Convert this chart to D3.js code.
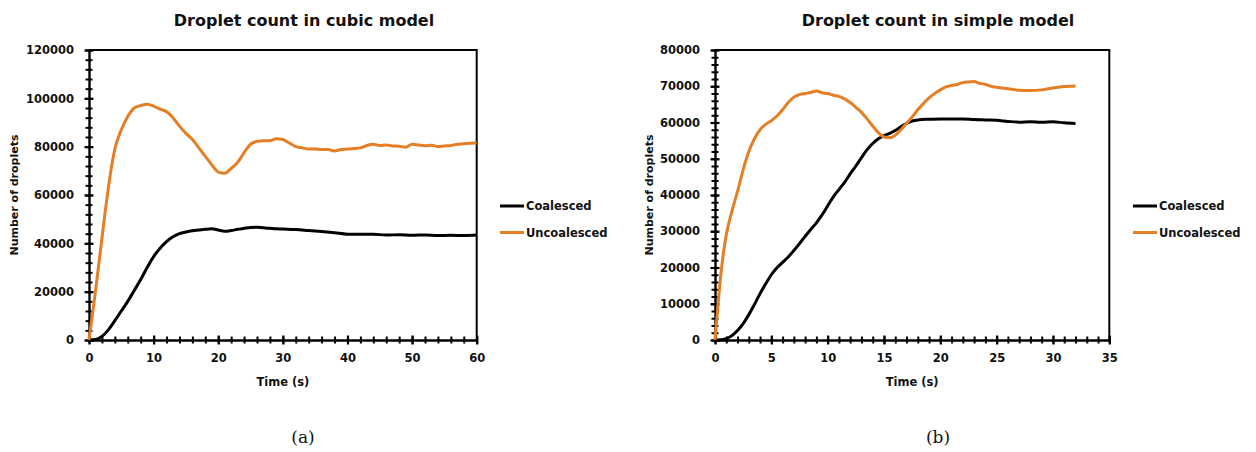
<!DOCTYPE html>
<html><head><meta charset="utf-8">
<script src="https://cdn.jsdelivr.net/npm/d3@7"></script>
<style>
body{margin:0;background:#fff;}
text{font-family:"DejaVu Sans",sans-serif;font-weight:bold;fill:#111;}
.cap{font-family:"DejaVu Serif","Liberation Serif",serif;font-weight:normal;}
</style></head><body>
<svg id="c" width="1256" height="452"></svg>
<script>
// ---- Data: cubic model (a) ----
const cubicUncoalT = [0,0.5,1,1.5,2,2.5,3,3.5,4,5,6,7,8,9,10,11,12,13,14,15,16,17,18,19,20,21,22,23,24,25,26,27,28,29,30,31,32,33,34,35,36,37,38,39,40,41,42,43,44,45,46,47,48,49,50,51,52,53,54,55,56,57,58,59,60];
const cubicUncoalV = [0,10000,20000,31000,42000,53000,63000,72000,79000,87000,92500,96000,97000,97600,96800,95500,94500,92000,88500,85500,83000,79500,76000,72500,69500,69000,71000,73500,77500,81000,82200,82500,82500,83300,83000,81500,80000,79500,79000,79000,78800,78800,78200,78800,79000,79200,79500,80500,81000,80500,80700,80300,80200,79800,81000,80700,80400,80600,80000,80300,80500,81000,81200,81400,81500];
const cubicCoalT = [0,1,2,3,4,5,6,7,8,9,10,11,12,13,14,15,16,17,18,19,20,21,22,23,24,25,26,27,28,29,30,32,34,36,38,40,42,44,46,48,50,52,54,56,58,60];
const cubicCoalV = [0,200,1500,4200,8000,12000,16000,20500,25000,30000,34500,38000,40700,42700,44000,44700,45200,45500,45800,46000,45500,45000,45300,45800,46200,46600,46700,46400,46200,46000,45900,45700,45300,44900,44400,43800,43800,43800,43400,43600,43300,43500,43200,43300,43200,43400];
// ---- Data: simple model (b) ----
const simpleUncoalT = [0,0.25,0.5,0.75,1,1.5,2,2.5,3,3.5,4,4.5,5,5.5,6,6.5,7,7.5,8,8.5,9,9.5,10,10.5,11,11.5,12,12.5,13,13.5,14,14.5,15,15.5,16,16.5,17,17.5,18,18.5,19,19.5,20,20.5,21,21.5,22,22.5,23,23.5,24,24.5,25,26,27,28,29,30,31,32];
const simpleUncoalV = [0,9000,17500,24000,29000,35500,41000,47000,52000,55500,58000,59500,60500,61800,63500,65500,67000,67700,68000,68300,68700,68200,68000,67500,67200,66500,65500,64200,62800,61000,59000,57200,56000,55800,56500,58000,59800,61500,63500,65200,66800,68000,69000,69800,70200,70500,71000,71200,71300,70800,70500,70000,69700,69300,68900,68800,69000,69500,69900,70100];
const simpleCoalT = [0,0.5,1,1.5,2,2.5,3,3.5,4,4.5,5,5.5,6,6.5,7,7.5,8,8.5,9,9.5,10,10.5,11,11.5,12,12.5,13,13.5,14,14.5,15,15.5,16,16.5,17,17.5,18,19,20,21,22,23,24,25,26,27,28,29,30,31,32];
const simpleCoalV = [0,50,400,1200,2600,4500,7000,9800,12800,15500,18000,19900,21400,22900,24700,26600,28600,30500,32300,34500,37000,39500,41500,43500,45800,48000,50300,52500,54200,55500,56400,57000,57800,58800,59800,60400,60700,60900,61000,61000,61000,60800,60700,60600,60300,60100,60200,60100,60200,59900,59700];
const seriesNames = ["Coalesced","Uncoalesced"];
const seriesColors = ["#000000","#E57E25"];
const titles = ["Droplet count in cubic model","Droplet count in simple model"];
const captions = ["(a)","(b)"];

const svg = d3.select("#c");

function panel(cfg){
  const g = svg.append("g");
  const x = d3.scaleLinear().domain([0,cfg.xmax]).range([cfg.x0,cfg.x1]);
  const y = d3.scaleLinear().domain([0,cfg.ymax]).range([340,50]);
  // box (top and right)
  g.append("path").attr("d",`M${x(0)},${y(cfg.ymax)}H${x(cfg.xmax)}V${y(0)}`)
    .attr("fill","none").attr("stroke","#000").attr("stroke-width",2);
  // minor ticks
  const mx = g.append("g").attr("transform",`translate(0,${y(0)})`)
    .call(d3.axisBottom(x).tickValues(d3.range(0,cfg.xmax+1e-9,cfg.xminor)).tickFormat("").tickSize(0));
  mx.selectAll(".tick line").attr("y1",-3.5).attr("y2",3.5).attr("stroke","#000").attr("stroke-width",2);
  mx.select(".domain").remove();
  const my = g.append("g").attr("transform",`translate(${x(0)},0)`)
    .call(d3.axisLeft(y).tickValues(d3.range(0,cfg.ymax+1e-9,cfg.yminor)).tickFormat("").tickSize(0));
  my.selectAll(".tick line").attr("x1",-3.5).attr("x2",3.5).attr("stroke","#000").attr("stroke-width",2);
  my.select(".domain").remove();
  // major axes
  const ax = g.append("g").attr("transform",`translate(0,${y(0)})`)
    .call(d3.axisBottom(x).tickValues(d3.range(0,cfg.xmax+1e-9,cfg.xmajor)).tickFormat(d3.format("d")).tickSize(0).tickPadding(14));
  ax.select(".domain").attr("stroke","#000").attr("stroke-width",2.4);
  ax.selectAll(".tick line").attr("y1",-4.5).attr("y2",4.5).attr("stroke","#000").attr("stroke-width",2.2);
  ax.selectAll("text").style("font-size","11.5px").style("font-family","DejaVu Sans").style("font-weight","bold").attr("fill","#111");
  const ay = g.append("g").attr("transform",`translate(${x(0)},0)`)
    .call(d3.axisLeft(y).tickValues(d3.range(0,cfg.ymax+1e-9,cfg.ymajor)).tickFormat(d3.format("d")).tickSize(0).tickPadding(15));
  ay.select(".domain").attr("stroke","#000").attr("stroke-width",2.4);
  ay.selectAll(".tick line").attr("x1",-4.5).attr("x2",4.5).attr("stroke","#000").attr("stroke-width",2.2);
  ay.selectAll("text").style("font-size","11.5px").style("font-family","DejaVu Sans").style("font-weight","bold").attr("fill","#111");
  // lines
  const line = d3.line().x(d=>x(d[0])).y(d=>y(d[1])).curve(d3.curveMonotoneX);
  cfg.series.forEach((s,i)=>{
    g.append("path").datum(d3.zip(s.t,s.v)).attr("d",line)
      .attr("fill","none").attr("stroke",seriesColors[s.ci]).attr("stroke-width",3).attr("stroke-linejoin","round");
  });
  // title
  g.append("text").attr("x",cfg.titleX).attr("y",26).attr("text-anchor","middle")
    .style("font-size","16px").text(cfg.title);
  // axis titles
  g.append("text").attr("x",(cfg.x0+cfg.x1)/2).attr("y",386).attr("text-anchor","middle")
    .style("font-size","11.5px").text("Time (s)");
  g.append("text").attr("transform",`translate(${cfg.ylabX},195) rotate(-90)`).attr("text-anchor","middle")
    .style("font-size","11px").text("Number of droplets");
  // legend
  seriesNames.forEach((n,i)=>{
    const ly = 206 + i*26.5;
    g.append("line").attr("x1",cfg.legX).attr("x2",cfg.legX+24).attr("y1",ly).attr("y2",ly)
      .attr("stroke",seriesColors[i]).attr("stroke-width",3);
    g.append("text").attr("x",cfg.legX+26).attr("y",ly+4).style("font-size","11.5px").text(n);
  });
  // caption
  g.append("text").attr("class","cap").attr("x",cfg.capX).attr("y",443).attr("text-anchor","middle")
    .style("font-size","17px").text(cfg.caption);
}

panel({x0:89,x1:476.7,xmax:60,xmajor:10,xminor:2,ymax:120000,ymajor:20000,yminor:4000,
  title:titles[0],titleX:304,ylabX:18,legX:500,capX:303,caption:captions[0],
  series:[{t:cubicCoalT,v:cubicCoalV,ci:0},{t:cubicUncoalT,v:cubicUncoalV,ci:1}]});
panel({x0:715,x1:1109.3,xmax:35,xmajor:5,xminor:1,ymax:80000,ymajor:10000,yminor:2000,
  title:titles[1],titleX:938,ylabX:653,legX:1133,capX:938,caption:captions[1],
  series:[{t:simpleCoalT,v:simpleCoalV,ci:0},{t:simpleUncoalT,v:simpleUncoalV,ci:1}]});
</script>
</body></html>
